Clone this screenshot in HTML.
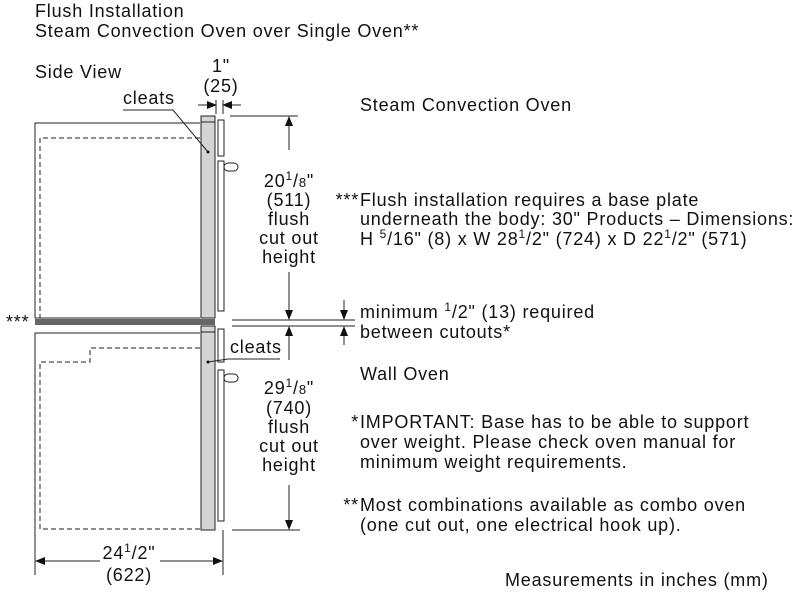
<!DOCTYPE html>
<html><head><meta charset="utf-8"><style>
body{margin:0;background:#fff}
svg{display:block;font-family:"Liberation Sans",sans-serif;fill:#111}
text{font-size:18px;letter-spacing:0.8px}
</style></head><body>
<svg width="800" height="595" viewBox="0 0 800 595" xmlns="http://www.w3.org/2000/svg">
<defs><marker id="a" markerWidth="10" markerHeight="8" refX="9" refY="4" orient="auto" markerUnits="userSpaceOnUse"><path d="M0,0 L10,4 L0,8z" fill="#111"/></marker></defs>
<g fill="none" stroke="#222" stroke-width="1">
<path d="M200,123 H35 V318 H200"/>
<path d="M200,138 H40 V318" stroke-dasharray="5,3"/>
<rect x="201" y="116" width="14" height="202" fill="#d4d4d4"/>
<line x1="201" y1="122" x2="215" y2="122"/>
<rect x="218" y="120" width="6" height="36" fill="#fff"/>
<rect x="218" y="161" width="6" height="150" fill="#fff"/>
<rect x="224" y="163" width="14" height="8" rx="4" fill="#fff"/>
<rect x="35" y="319" width="180" height="6" fill="#666" stroke="none"/>
<path d="M200,333 H35 V530"/>
<path d="M200,348 H90 V362 H40 V529 H200" stroke-dasharray="5,3"/>
<rect x="201" y="326" width="14" height="204" fill="#d4d4d4"/>
<line x1="201" y1="332" x2="215" y2="332"/>
<rect x="218" y="329" width="6" height="33" fill="#fff"/>
<rect x="218" y="370" width="6" height="151" fill="#fff"/>
<rect x="224" y="374" width="14" height="8" rx="4" fill="#fff"/>
<line x1="216" y1="100" x2="216" y2="114"/><line x1="223" y1="100" x2="223" y2="114"/>
<line x1="198" y1="105" x2="216" y2="105" marker-end="url(#a)"/>
<line x1="241" y1="105" x2="223" y2="105" marker-end="url(#a)"/>
<line x1="230" y1="116" x2="298" y2="116"/>
<line x1="289" y1="150" x2="289" y2="117" marker-end="url(#a)"/>
<line x1="289" y1="272" x2="289" y2="319" marker-end="url(#a)"/>
<line x1="232" y1="320" x2="355" y2="320"/><line x1="232" y1="326" x2="355" y2="326"/>
<line x1="344" y1="300" x2="344" y2="319" marker-end="url(#a)"/>
<line x1="344" y1="345" x2="344" y2="327" marker-end="url(#a)"/>
<line x1="289" y1="360" x2="289" y2="327" marker-end="url(#a)"/>
<line x1="289" y1="485" x2="289" y2="529" marker-end="url(#a)"/>
<line x1="232" y1="530" x2="300" y2="530"/>
<line x1="35" y1="530" x2="35" y2="575"/><line x1="223" y1="530" x2="223" y2="575"/>
<line x1="100" y1="561" x2="36" y2="561" marker-end="url(#a)"/>
<line x1="160" y1="561" x2="222" y2="561" marker-end="url(#a)"/>
<path d="M123,110 H173 L208,152"/>
<path d="M280,359 H228 L208,362"/>
</g>
<circle cx="208" cy="152" r="1.5"/><circle cx="208" cy="362" r="1.5"/>
<text x="35" y="17">Flush Installation</text>
<text x="35" y="37">Steam Convection Oven over Single Oven**</text>
<text x="35" y="78">Side View</text>
<text x="123" y="104">cleats</text>
<text x="221" y="72" text-anchor="middle">1"</text>
<text x="221" y="92" text-anchor="middle">(25)</text>
<text x="360" y="111">Steam Convection Oven</text>
<text x="289" y="187" text-anchor="middle">20<tspan font-size="12" dy="-7">1</tspan><tspan dy="7">/</tspan><tspan font-size="13">8</tspan>"</text>
<text x="289" y="206" text-anchor="middle">(511)</text>
<text x="289" y="225" text-anchor="middle">flush</text>
<text x="289" y="244" text-anchor="middle">cut out</text>
<text x="289" y="263" text-anchor="middle">height</text>
<text x="359" y="206" text-anchor="end" font-size="13">***</text>
<text x="360" y="206">Flush installation requires a base plate</text>
<text x="360" y="225">underneath the body: 30" Products – Dimensions:</text>
<text x="360" y="245">H <tspan font-size="12" dy="-7">5</tspan><tspan dy="7">/16" (8) x W 28</tspan><tspan font-size="12" dy="-7">1</tspan><tspan dy="7">/2" (724) x D 22</tspan><tspan font-size="12" dy="-7">1</tspan><tspan dy="7">/2" (571)</tspan></text>
<text x="6" y="328" font-size="12">***</text>
<text x="360" y="318">minimum <tspan font-size="12" dy="-7">1</tspan><tspan dy="7">/2" (13) required</tspan></text>
<text x="360" y="338">between cutouts*</text>
<text x="230" y="353">cleats</text>
<text x="360" y="380">Wall Oven</text>
<text x="289" y="394" text-anchor="middle">29<tspan font-size="12" dy="-7">1</tspan><tspan dy="7">/</tspan><tspan font-size="13">8</tspan>"</text>
<text x="289" y="414" text-anchor="middle">(740)</text>
<text x="289" y="433" text-anchor="middle">flush</text>
<text x="289" y="452" text-anchor="middle">cut out</text>
<text x="289" y="471" text-anchor="middle">height</text>
<text x="359" y="428" text-anchor="end">*</text>
<text x="360" y="428">IMPORTANT: Base has to be able to support</text>
<text x="360" y="448">over weight. Please check oven manual for</text>
<text x="360" y="468">minimum weight requirements.</text>
<text x="359" y="511" text-anchor="end">**</text>
<text x="360" y="511">Most combinations available as combo oven</text>
<text x="360" y="531">(one cut out, one electrical hook up).</text>
<text x="129" y="559" text-anchor="middle">24<tspan font-size="12" dy="-7">1</tspan><tspan dy="7">/2"</tspan></text>
<text x="129" y="581" text-anchor="middle">(622)</text>
<text x="505" y="586">Measurements in inches (mm)</text>
</svg>
</body></html>
